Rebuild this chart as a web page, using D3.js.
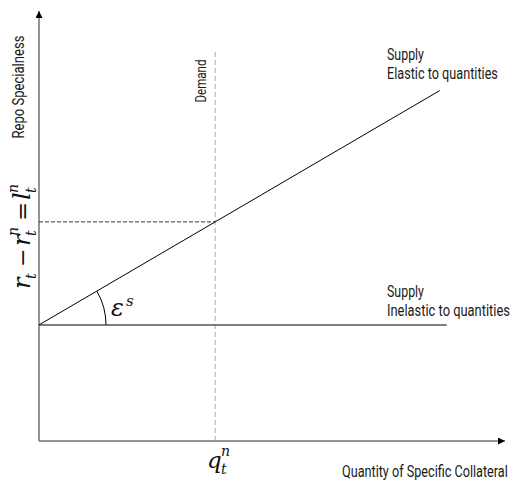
<!DOCTYPE html>
<html>
<head>
<meta charset="utf-8">
<script src="https://cdn.jsdelivr.net/npm/d3@7"></script>
<style>
  body { margin: 0; background: #fff; }
  .lbl { font-family: "Liberation Sans Narrow", "Roboto", "DejaVu Sans", sans-serif; fill: #1a1a1a; }
  .math { font-family: "DejaVu Serif", "Liberation Serif", serif; font-style: italic; fill: #111; }
</style>
</head>
<body>
<div id="chart"></div>
<script>
// Oferta y demanda de colateral especifico (diagrama)

// Datos
var xDomain = [0, 100];
var yDomain = [0, 100];
var elasticQ = [0, 86];        // Supply elastic
var elasticS = [27, 81.5];
var inelasticQ = [0, 87.5];    // Supply inelastic
var inelasticS = [27, 27];
var demandQ = 37.8;            // Demand vertical
var demandTop = 90.7;

var width = 514;
var height = 481;

var svg = d3.select("#chart")
  .append("svg")
  .attr("width", width)
  .attr("height", height);

var xScale = d3.scaleLinear().domain(xDomain).range([39, 505]);
var yScale = d3.scaleLinear().domain(yDomain).range([441, 11]);

// flechas
var defs = svg.append("defs");
defs.append("marker")
  .attr("id", "arrow")
  .attr("viewBox", "0 0 10 10")
  .attr("refX", 10)
  .attr("refY", 5)
  .attr("markerWidth", 7)
  .attr("markerHeight", 7)
  .attr("markerUnits", "userSpaceOnUse")
  .attr("orient", "auto")
  .append("path")
  .attr("d", "M0,0 L10,5 L0,10 Z")
  .attr("fill", "#000");

// ejes
svg.append("line")
  .attr("x1", xScale(0)).attr("y1", yScale(0))
  .attr("x2", xScale(0)).attr("y2", yScale(yDomain[1]))
  .attr("stroke", "#707070").attr("stroke-width", 1.5)
  .attr("marker-end", "url(#arrow)");
svg.append("line")
  .attr("x1", xScale(0)).attr("y1", yScale(0))
  .attr("x2", xScale(xDomain[1])).attr("y2", yScale(0))
  .attr("stroke", "#707070").attr("stroke-width", 1.5)
  .attr("marker-end", "url(#arrow)");

var line = d3.line()
  .x(function(d) { return xScale(d[0]); })
  .y(function(d) { return yScale(d[1]); });

// demanda
svg.append("path")
  .attr("d", line([[demandQ, 0], [demandQ, demandTop]]))
  .attr("stroke", "#aaa").attr("stroke-width", 1)
  .attr("stroke-dasharray", "5,3").attr("fill", "none");

// nivel en la interseccion
var sAtDemand = elasticS[0] + (elasticS[1] - elasticS[0]) * (demandQ - elasticQ[0]) / (elasticQ[1] - elasticQ[0]);
svg.append("path")
  .attr("d", line([[0, sAtDemand], [demandQ, sAtDemand]]))
  .attr("stroke", "#333").attr("stroke-width", 1)
  .attr("stroke-dasharray", "4,2").attr("fill", "none");

// oferta inelastica
svg.append("path")
  .attr("d", line(d3.zip(inelasticQ, inelasticS)))
  .attr("stroke", "#555").attr("stroke-width", 1.5).attr("fill", "none");

// oferta elastica
svg.append("path")
  .attr("d", line(d3.zip(elasticQ, elasticS)))
  .attr("stroke", "#000").attr("stroke-width", 1).attr("fill", "none");

// arco del angulo
var ox = xScale(elasticQ[0]), oy = yScale(elasticS[0]);
var ang = Math.atan2(oy - yScale(elasticS[1]), xScale(elasticQ[1]) - ox);
var arcPath = d3.path();
arcPath.arc(0, 0, 67, -ang, 0, false);
svg.append("path")
  .attr("transform", "translate(" + ox + "," + oy + ")")
  .attr("d", arcPath.toString())
  .attr("stroke", "#000").attr("stroke-width", 1).attr("fill", "none");

// etiquetas: se escala en horizontal para imitar la letra estrecha
function label(x, y, txt, len, size, rot) {
  var t = svg.append("text")
    .attr("class", "lbl")
    .attr("font-size", size)
    .text(txt);
  var natural = t.node().getComputedTextLength();
  var sx = len / natural;
  if (rot) {
    t.attr("x", -natural / 2)
      .attr("transform", "translate(" + x + "," + y + ")rotate(-90)scale(" + sx + ",1)");
  } else {
    t.attr("transform", "translate(" + x + "," + y + ")scale(" + sx + ",1)");
  }
  return t;
}

label(24, 87, "Repo Specialness", 103, 16, true);
label(206, 81, "Demand", 43, 15, true);
label(387, 60, "Supply", 37, 17);
label(387, 79, "Elastic to quantities", 111, 17);
label(387, 297, "Supply", 37, 17);
label(387, 316, "Inelastic to quantities", 123, 17);
label(342, 477, "Quantity of Specific Collateral", 166, 17);

// formula en el eje vertical
var fm = svg.append("g")
  .attr("class", "math")
  .attr("transform", "translate(30,289)rotate(-90)");
function piece(g, x, y, txt, size, italic) {
  g.append("text")
    .attr("x", x).attr("y", y)
    .attr("font-size", size)
    .style("font-style", italic === false ? "normal" : "italic")
    .text(txt);
}
piece(fm, 0, 0, "r", 24);
piece(fm, 10, 6, "t", 14);
piece(fm, 22, 0, "\u2212", 22, false);
piece(fm, 43, 0, "r", 24);
piece(fm, 53, 6, "t", 14);
piece(fm, 53, -12, "n", 14);
piece(fm, 68, 0, "=", 23, false);
piece(fm, 89, 0, "l", 24);
piece(fm, 96, 6, "t", 14);
piece(fm, 96, -12, "n", 14);

// q_t^n
var qg = svg.append("g").attr("class", "math").attr("transform", "translate(207,468)");
piece(qg, 0, 0, "q", 23);
piece(qg, 14, 6, "t", 14);
piece(qg, 14, -12, "n", 14);

// epsilon^s
var eg = svg.append("g").attr("class", "math").attr("transform", "translate(111,316)");
piece(eg, 0, 0, "\u03B5", 24);
piece(eg, 15, -10, "s", 15);
</script>
</body>
</html>
